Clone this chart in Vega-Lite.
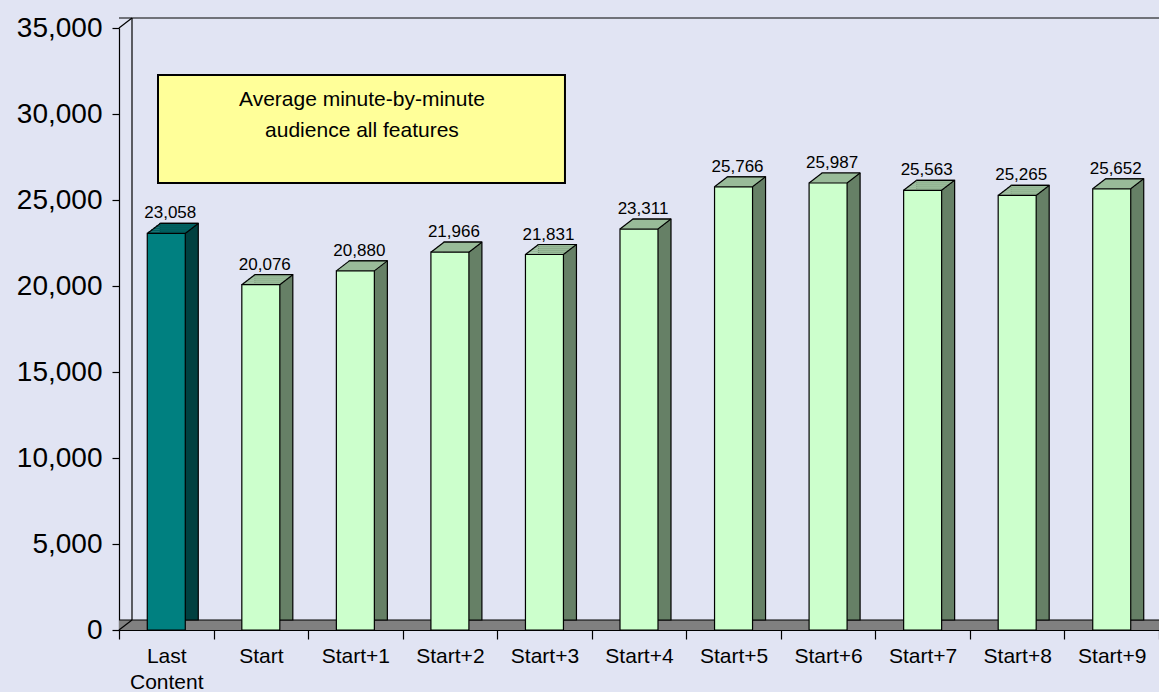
{
  "$schema": "https://vega.github.io/schema/vega-lite/v6.json",
  "width": 1040,
  "height": 602,
  "autosize": {"type": "none"},
  "padding": {"left": 119, "top": 28, "right": 0, "bottom": 62},
  "background": "#E1E4F3",
  "config": {
    "view": {"stroke": null},
    "font": "Liberation Sans",
    "axisY": {"labelFontSize": 28, "labelColor": "black", "tickSize": 7, "labelPadding": 10, "domainColor": "black", "tickColor": "black", "grid": false, "domainWidth": 1.2, "tickWidth": 1.2, "labelExpr": "format(datum.value, ',')"},
    "axisX": {"labelAngle": 0, "labelFontSize": 21, "labelColor": "black", "tickBand": "extent", "tickSize": 9, "labelPadding": 6, "labelLineHeight": 26, "domainColor": "black", "tickColor": "black", "grid": false, "domainWidth": 1.2, "tickWidth": 1.2, "labelExpr": "datum.label == 'Last Content' ? ['Last', 'Content'] : datum.label"}
  },
  "datasets": {
    "bars": [
      {"cat": "Last Content", "value": 23058},
      {"cat": "Start", "value": 20076},
      {"cat": "Start+1", "value": 20880},
      {"cat": "Start+2", "value": 21966},
      {"cat": "Start+3", "value": 21831},
      {"cat": "Start+4", "value": 23311},
      {"cat": "Start+5", "value": 25766},
      {"cat": "Start+6", "value": 25987},
      {"cat": "Start+7", "value": 25563},
      {"cat": "Start+8", "value": 25265},
      {"cat": "Start+9", "value": 25652}
    ],
    "one": [{}]
  },
  "resolve": {"scale": {"x": "independent"}},
  "layer": [
    {
      "data": {"name": "bars"},
      "layer": [
        {"data": {"name": "one"}, "mark": {"type": "rule", "color": "#808080", "strokeWidth": 2.2, "yOffset": -1, "xOffset": 1.3}, "encoding": {"y": {"datum": 0, "type": "quantitative", "title": null}}},
        {"data": {"name": "one"}, "mark": {"type": "rule", "color": "#808080", "strokeWidth": 2.2, "yOffset": -3, "xOffset": 3.9}, "encoding": {"y": {"datum": 0, "type": "quantitative", "title": null}}},
        {"data": {"name": "one"}, "mark": {"type": "rule", "color": "#808080", "strokeWidth": 2.2, "yOffset": -5, "xOffset": 6.5}, "encoding": {"y": {"datum": 0, "type": "quantitative", "title": null}}},
        {"data": {"name": "one"}, "mark": {"type": "rule", "color": "#808080", "strokeWidth": 2.2, "yOffset": -7, "xOffset": 9.1}, "encoding": {"y": {"datum": 0, "type": "quantitative", "title": null}}},
        {"data": {"name": "one"}, "mark": {"type": "rule", "color": "#808080", "strokeWidth": 2.2, "yOffset": -9, "xOffset": 11.7}, "encoding": {"y": {"datum": 0, "type": "quantitative", "title": null}}},
        {"data": {"name": "one"}, "mark": {"type": "rule", "color": "black", "strokeWidth": 1.2, "yOffset": -10, "xOffset": 13}, "encoding": {"y": {"datum": 0, "type": "quantitative", "title": null}}},
        {"data": {"name": "one"}, "mark": {"type": "rule", "color": "black", "strokeWidth": 1.2, "yOffset": -10, "xOffset": 13}, "encoding": {"y": {"datum": 35000, "type": "quantitative", "title": null}}},
        {"data": {"name": "one"}, "mark": {"type": "rule", "color": "black", "strokeWidth": 1.2, "xOffset": 13, "yOffset": -10, "y2Offset": -10},
         "encoding": {"x": {"datum": "Last Content", "type": "nominal", "bandPosition": 0, "title": null}, "y": {"datum": 0, "type": "quantitative", "title": null}, "y2": {"datum": 35000}}},
        {"data": {"name": "one"}, "mark": {"type": "rule", "color": "black", "strokeWidth": 1.2, "x2Offset": -34.27, "y2Offset": -10},
         "encoding": {"x": {"datum": "Last Content", "type": "nominal", "bandPosition": 0, "title": null}, "x2": {"datum": "Last Content"}, "y": {"datum": 0, "type": "quantitative", "title": null}, "y2": {"datum": 0}}},
        {"data": {"name": "one"}, "mark": {"type": "rule", "color": "black", "strokeWidth": 1.2, "x2Offset": -34.27, "y2Offset": -10},
         "encoding": {"x": {"datum": "Last Content", "type": "nominal", "bandPosition": 0, "title": null}, "x2": {"datum": "Last Content"}, "y": {"datum": 35000, "type": "quantitative", "title": null}, "y2": {"datum": 35000}}},
        {
          "mark": {"type": "bar", "width": 38, "xOffset": 13, "x2Offset": 13, "yOffset": -10, "y2Offset": -10, "stroke": "black", "strokeWidth": 1.2},
          "encoding": {
            "x": {"field": "cat", "type": "nominal", "sort": null, "title": null, "scale": {"paddingInner": 0, "paddingOuter": 0}},
            "y": {"field": "value", "type": "quantitative", "scale": {"domain": [0, 35000]}, "title": null, "axis": {"values": [0, 5000, 10000, 15000, 20000, 25000, 30000, 35000]}},
            "color": {"condition": {"test": "datum.cat == 'Last Content'", "value": "#004040"}, "value": "#668066"}
          }
        },
        {"mark": {"type": "tick", "orient": "horizontal", "size": 38, "thickness": 2.2, "xOffset": 1.3, "yOffset": -1, "opacity": 1},
         "encoding": {"x": {"field": "cat", "type": "nominal", "sort": null, "title": null}, "y": {"field": "value", "type": "quantitative", "title": null}, "color": {"condition": {"test": "datum.cat == 'Last Content'", "value": "#006060"}, "value": "#99BB99"}}},
        {"mark": {"type": "tick", "orient": "horizontal", "size": 38, "thickness": 2.2, "xOffset": 3.9, "yOffset": -3, "opacity": 1},
         "encoding": {"x": {"field": "cat", "type": "nominal", "sort": null, "title": null}, "y": {"field": "value", "type": "quantitative", "title": null}, "color": {"condition": {"test": "datum.cat == 'Last Content'", "value": "#006060"}, "value": "#99BB99"}}},
        {"mark": {"type": "tick", "orient": "horizontal", "size": 38, "thickness": 2.2, "xOffset": 6.5, "yOffset": -5, "opacity": 1},
         "encoding": {"x": {"field": "cat", "type": "nominal", "sort": null, "title": null}, "y": {"field": "value", "type": "quantitative", "title": null}, "color": {"condition": {"test": "datum.cat == 'Last Content'", "value": "#006060"}, "value": "#99BB99"}}},
        {"mark": {"type": "tick", "orient": "horizontal", "size": 38, "thickness": 2.2, "xOffset": 9.1, "yOffset": -7, "opacity": 1},
         "encoding": {"x": {"field": "cat", "type": "nominal", "sort": null, "title": null}, "y": {"field": "value", "type": "quantitative", "title": null}, "color": {"condition": {"test": "datum.cat == 'Last Content'", "value": "#006060"}, "value": "#99BB99"}}},
        {"mark": {"type": "tick", "orient": "horizontal", "size": 38, "thickness": 2.2, "xOffset": 11.7, "yOffset": -9, "opacity": 1},
         "encoding": {"x": {"field": "cat", "type": "nominal", "sort": null, "title": null}, "y": {"field": "value", "type": "quantitative", "title": null}, "color": {"condition": {"test": "datum.cat == 'Last Content'", "value": "#006060"}, "value": "#99BB99"}}},
        {"mark": {"type": "rule", "color": "black", "strokeWidth": 1.2, "xOffset": -6, "x2Offset": 32, "yOffset": -10, "y2Offset": -10},
         "encoding": {"x": {"field": "cat", "type": "nominal", "sort": null, "title": null}, "x2": {"field": "cat"}, "y": {"field": "value", "type": "quantitative", "title": null}, "y2": {"field": "value"}}},
        {"mark": {"type": "rule", "color": "black", "strokeWidth": 1.2, "xOffset": -19, "x2Offset": -6, "y2Offset": -10},
         "encoding": {"x": {"field": "cat", "type": "nominal", "sort": null, "title": null}, "x2": {"field": "cat"}, "y": {"field": "value", "type": "quantitative", "title": null}, "y2": {"field": "value"}}},
        {"mark": {"type": "rule", "color": "black", "strokeWidth": 1.2, "xOffset": 19, "x2Offset": 32, "y2Offset": -10},
         "encoding": {"x": {"field": "cat", "type": "nominal", "sort": null, "title": null}, "x2": {"field": "cat"}, "y": {"field": "value", "type": "quantitative", "title": null}, "y2": {"field": "value"}}},
        {
          "mark": {"type": "bar", "width": 38, "stroke": "black", "strokeWidth": 1.2},
          "encoding": {
            "x": {"field": "cat", "type": "nominal", "sort": null, "title": null},
            "y": {"field": "value", "type": "quantitative", "title": null},
            "color": {"condition": {"test": "datum.cat == 'Last Content'", "value": "#008080"}, "value": "#CCFFCC"}
          }
        },
        {
          "mark": {"type": "text", "fontSize": 17, "color": "black", "xOffset": 4, "yOffset": -15, "baseline": "alphabetic", "align": "center"},
          "encoding": {
            "x": {"field": "cat", "type": "nominal", "sort": null, "title": null},
            "y": {"field": "value", "type": "quantitative", "title": null},
            "text": {"field": "value", "type": "quantitative", "format": ","}
          }
        }
      ]
    },
    {
      "data": {"name": "one"},
      "layer": [
        {"mark": {"type": "rect", "fill": "#FFFF99", "stroke": "black", "strokeWidth": 2},
         "encoding": {"x": {"datum": 0.4125, "type": "quantitative", "scale": {"domain": [0, 11]}, "axis": null}, "x2": {"datum": 4.717}, "y": {"datum": 32267, "type": "quantitative", "title": null}, "y2": {"datum": 25988}}},
        {"mark": {"type": "text", "fontSize": 21, "lineHeight": 31, "align": "center", "baseline": "alphabetic", "color": "black"},
         "encoding": {"x": {"datum": 2.57, "type": "quantitative", "axis": null}, "y": {"datum": 30465, "type": "quantitative", "title": null}, "text": {"value": ["Average minute-by-minute", "audience all features"]}}}
      ]
    }
  ]
}
